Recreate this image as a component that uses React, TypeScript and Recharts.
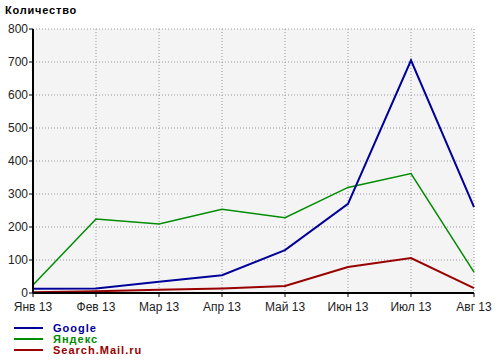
import React from 'react';
import { LineChart, Line, XAxis, YAxis, CartesianGrid } from 'recharts';

const months = ['Янв 13', 'Фев 13', 'Мар 13', 'Апр 13', 'Май 13', 'Июн 13', 'Июл 13', 'Авг 13'];
const google = [13, 14, 34, 54, 130, 270, 705, 260];
const yandex = [24, 224, 209, 254, 228, 320, 362, 63];
const mail = [2, 5, 10, 14, 21, 79, 106, 15];
const yTicks = [0, 100, 200, 300, 400, 500, 600, 700, 800];

const series = [
  { key: 'google', name: 'Google', color: '#000099' },
  { key: 'yandex', name: 'Яндекс', color: '#008c00' },
  { key: 'mail', name: 'Search.Mail.ru', color: '#990000' },
];

const data = months.map((m, i) => ({ m, google: google[i], yandex: yandex[i], mail: mail[i] }));

const FONT = '"Liberation Sans", Arial, sans-serif';

export default function App() {
  return (
    <div style={{ position: 'absolute', left: 0, top: 0, width: 500, height: 364, background: '#fff', fontFamily: FONT }}>
      <div style={{ position: 'absolute', left: 5, top: 4, fontSize: 11, fontWeight: 'bold', color: '#000', letterSpacing: 0.8, lineHeight: '13px' }}>
        Количество
      </div>
      <LineChart width={500} height={364} data={data} margin={{ top: 29, right: 26, left: 0, bottom: 51 }}>
        <CartesianGrid fill="#f4f4f4" stroke="#999" strokeDasharray="1 2" />
        <XAxis
          dataKey="m"
          height={20}
          interval={0}
          tickSize={4}
          tickMargin={5}
          axisLine={{ stroke: '#000', strokeWidth: 2 }}
          tickLine={{ stroke: '#000' }}
          tick={{ fill: '#222', fontSize: 12, fontFamily: FONT }}
        />
        <YAxis
          width={33}
          domain={[0, 800]}
          ticks={yTicks}
          interval={0}
          tickSize={4}
          tickMargin={1}
          axisLine={{ stroke: '#000', strokeWidth: 2 }}
          tickLine={{ stroke: '#000' }}
          tick={{ fill: '#222', fontSize: 12, fontFamily: FONT }}
        />
        <Line dataKey="mail" stroke="#990000" strokeWidth={2} dot={false} isAnimationActive={false} />
        <Line dataKey="yandex" stroke="#008c00" strokeWidth={1.5} dot={false} isAnimationActive={false} />
        <Line dataKey="google" stroke="#000099" strokeWidth={2} dot={false} isAnimationActive={false} />
      </LineChart>
      {series.map((s, i) => (
        <div key={s.key} style={{ position: 'absolute', left: 14, top: 322.5 + i * 11, height: 11, display: 'flex', alignItems: 'center' }}>
          <div style={{ width: 29, height: 2, background: s.color }} />
          <span style={{ marginLeft: 10, fontSize: 11, fontWeight: 'bold', color: s.color, letterSpacing: 1, lineHeight: '11px' }}>{s.name}</span>
        </div>
      ))}
    </div>
  );
}
